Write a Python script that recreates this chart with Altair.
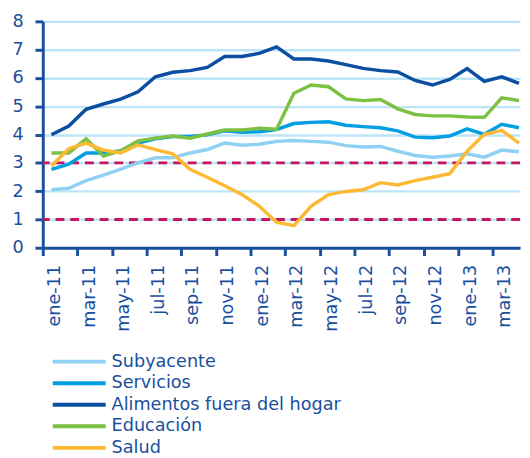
import altair as alt
import pandas as pd

months = ["ene-11", "feb-11", "mar-11", "abr-11", "may-11", "jun-11", "jul-11", "ago-11",
          "sep-11", "oct-11", "nov-11", "dic-11", "ene-12", "feb-12", "mar-12", "abr-12",
          "may-12", "jun-12", "jul-12", "ago-12", "sep-12", "oct-12", "nov-12", "dic-12",
          "ene-13", "feb-13", "mar-13", "abr-13"]

series_names = ["Subyacente", "Servicios", "Alimentos fuera del hogar", "Educación", "Salud"]
series_colors = ["#8ED1F3", "#009FE3", "#0B4EA2", "#7CC143", "#FDB933"]

subyacente = [2.05, 2.10, 2.37, 2.57, 2.78, 3.00, 3.18, 3.18, 3.35, 3.47, 3.70, 3.62, 3.66, 3.76,
              3.79, 3.76, 3.73, 3.61, 3.56, 3.58, 3.41, 3.26, 3.20, 3.24, 3.32, 3.20, 3.45, 3.39]
servicios = [2.77, 2.95, 3.35, 3.35, 3.43, 3.70, 3.85, 3.93, 3.93, 3.99, 4.13, 4.08, 4.10, 4.18,
             4.39, 4.43, 4.45, 4.33, 4.28, 4.24, 4.13, 3.91, 3.89, 3.95, 4.20, 4.01, 4.36, 4.24]
alimentos = [3.99, 4.30, 4.89, 5.08, 5.25, 5.51, 6.04, 6.20, 6.26, 6.37, 6.76, 6.76, 6.87, 7.10,
             6.67, 6.67, 6.60, 6.47, 6.34, 6.26, 6.21, 5.91, 5.75, 5.95, 6.33, 5.88, 6.04, 5.81]
educacion = [3.35, 3.35, 3.85, 3.24, 3.43, 3.78, 3.87, 3.95, 3.87, 4.02, 4.16, 4.16, 4.22, 4.19,
             5.46, 5.75, 5.69, 5.26, 5.20, 5.24, 4.91, 4.71, 4.66, 4.66, 4.62, 4.61, 5.30, 5.20]
salud = [2.89, 3.50, 3.70, 3.45, 3.35, 3.64, 3.47, 3.32, 2.77, 2.49, 2.19, 1.88, 1.47, 0.90,
         0.78, 1.47, 1.88, 1.99, 2.05, 2.30, 2.22, 2.37, 2.49, 2.62, 3.41, 4.01, 4.15, 3.70]

ref_levels = [3, 1]
y_ticks = [0, 1, 2, 3, 4, 5, 6, 7, 8]

DARK = "#1A4F9C"
GRID = "#BDE5F7"
DASH = "#C5175F"
FONT = "DejaVu Sans"

rows = []
for name, vals in zip(series_names, [subyacente, servicios, alimentos, educacion, salud]):
    for i, v in enumerate(vals):
        rows.append({"t": i + 0.5, "serie": name, "valor": v, "mes": months[i]})
df = pd.DataFrame(rows)
ref_df = pd.DataFrame({"nivel": ref_levels})

tick_vals = list(range(0, len(months), 2))
label_list = "[" + ",".join("'" + m + "'" for m in months[0::2]) + "]"

x_enc = alt.X(
    "t:Q",
    scale=alt.Scale(domain=[0, 27.56], nice=False, zero=False),
    axis=alt.Axis(
        values=tick_vals, title=None, grid=False,
        labelExpr=label_list + "[datum.value / 2]",
        labelAngle=-90, labelOffset=12, labelPadding=9,
        labelFont=FONT, labelFontSize=18, labelColor=DARK,
        tickSize=8, tickWidth=3, tickColor=DARK,
        domainColor=DARK, domainWidth=3,
        labelOverlap=False, labelFlush=False, labelBound=False,
    ),
)
y_scale = alt.Scale(domain=[0, 8], nice=False)
y_axis = alt.Axis(
    values=y_ticks, title=None, grid=True, gridColor=GRID, gridWidth=2.5,
    labelFont=FONT, labelFontSize=18, labelColor=DARK, labelPadding=12,
    tickSize=8, tickWidth=3, tickColor=DARK, domainColor=DARK, domainWidth=3,
)

rules = alt.Chart(ref_df).mark_rule(color=DASH, strokeWidth=3, strokeDash=[9, 6]).encode(
    y=alt.Y("nivel:Q", scale=y_scale, axis=y_axis)
)

lines = alt.Chart(df).mark_line(strokeWidth=3.5, clip=True).encode(
    x=x_enc,
    y=alt.Y("valor:Q", scale=y_scale, axis=y_axis),
    color=alt.Color(
        "serie:N",
        scale=alt.Scale(domain=series_names, range=series_colors),
        legend=alt.Legend(
            title=None, orient="none", legendX=24.2, legendY=334.2,
            symbolType="M-2.5,0H2.5", symbolSize=467, symbolStrokeWidth=4,
            labelFont=FONT, labelFontSize=18, labelColor=DARK, labelOffset=20,
            labelLimit=0, rowPadding=0, padding=0,
        ),
    ),
)

chart = alt.layer(rules, lines).properties(
    width=487, height=231,
    padding={"left": 3.5, "top": 0, "right": 0, "bottom": 0},
).configure_view(stroke=None)

chart.save("out.html", embed_options={"renderer": "svg", "actions": False})
